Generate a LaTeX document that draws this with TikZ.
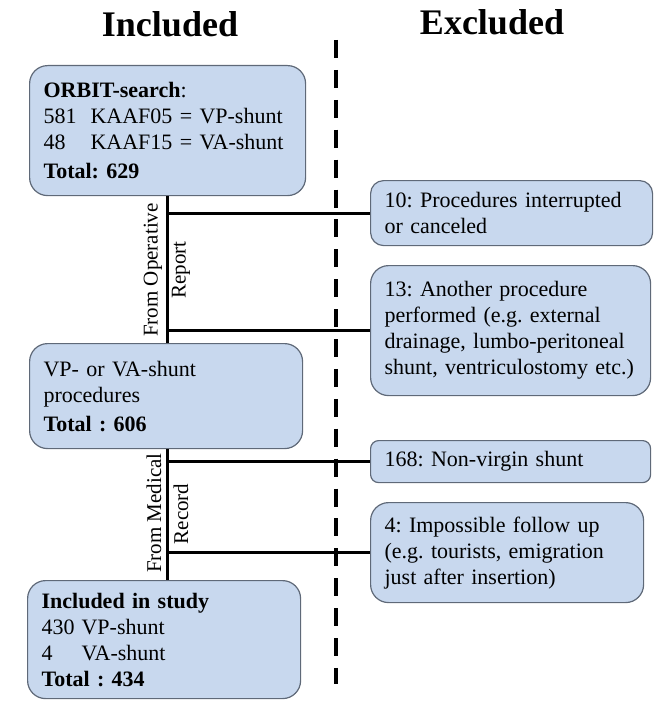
\documentclass[tikz,border=0pt]{standalone}
\usepackage{fontspec}
\setmainfont{Liberation Serif}
\frenchspacing
\definecolor{boxc}{RGB}{200,216,238}
\definecolor{bordc}{RGB}{95,105,120}
\tikzset{
  box/.style={draw=bordc, fill=boxc, line width=1.2pt, rounded corners=18pt,
    anchor=north west, align=left, inner xsep=14pt, inner ysep=0pt,
    font=\fontsize{22}{26}\selectfont},
  conn/.style={line width=3pt, black},
  dashline/.style={line width=4.5pt, black, dash pattern=on 18pt off 11.9pt},
  title/.style={font=\fontsize{36}{40}\selectfont\bfseries, anchor=base},
  side/.style={font=\fontsize{21}{24}\selectfont, rotate=90, inner sep=0pt}
}
\begin{document}
\begin{tikzpicture}[x=1pt, y=-1pt]
\useasboundingbox (0,0) rectangle (656,701);

% titles
\node[title] (tin) at (170,37) {Included};
\node[title] (tex) at (492,35) {Excluded};

% dashed separator
\coordinate (dtop) at (336,40);
\coordinate (dbot) at (336,684);
\draw[dashline] (dtop) -- (dbot);

% included boxes
\node[box, text width=248pt, minimum height=130pt] (b1) at (29,65)
 {\textbf{ORBIT-search}:\\
  \makebox[47pt][l]{581}KAAF05 = VP-shunt\\
  \makebox[47pt][l]{48}KAAF15 = VA-shunt\\[3pt]
  \textbf{Total: 629}};
\node[box, text width=245pt, minimum height=105pt] (b2) at (29,343)
 {VP- or VA-shunt\\
  procedures\\[3pt]
  \textbf{Total : 606}};
\node[box, text width=245pt, minimum height=118pt] (b3) at (27,580)
 {\textbf{Included in study}\\
  \makebox[40pt][l]{430}VP-shunt\\
  \makebox[40pt][l]{4}VA-shunt\\
  \textbf{Total : 434}};

% excluded boxes
\node[box, rounded corners=13pt, text width=254pt, minimum height=65pt] (e10) at (370,180)
 {10: Procedures interrupted\\ or canceled};
\node[box, text width=252pt, minimum height=130pt] (e13) at (370,265)
 {13: Another procedure\\ performed (e.g. external\\ drainage, lumbo-peritoneal\\ shunt, ventriculostomy etc.)};
\node[box, rounded corners=8pt, text width=252pt, minimum height=42pt] (e168) at (370,440)
 {168: Non-virgin shunt};
\node[box, text width=245pt, minimum height=100pt] (e4) at (370,502)
 {4: Impossible follow up\\ (e.g. tourists, emigration\\ just after insertion)};

% trunk
\coordinate (v) at (167,0);
\draw[conn] (v |- b1.south) -- (v |- b2.north);
\draw[conn] (v |- b2.south) -- (v |- b3.north);
\draw[conn] (v |- e10.west) -- (e10.west);
\draw[conn] (v |- e13.west) -- (e13.west);
\draw[conn] (v |- e168.west) -- (e168.west);
\draw[conn] (v |- e4.west) -- (e4.west);

% side labels
\node[side] (l1) at (153,270) {From Operative};
\node[side] (l2) at (181,270) {Report};
\node[side] (l3) at (154,513) {From Medical};
\node[side] (l4) at (181,514) {Record};
\end{tikzpicture}
\end{document}
